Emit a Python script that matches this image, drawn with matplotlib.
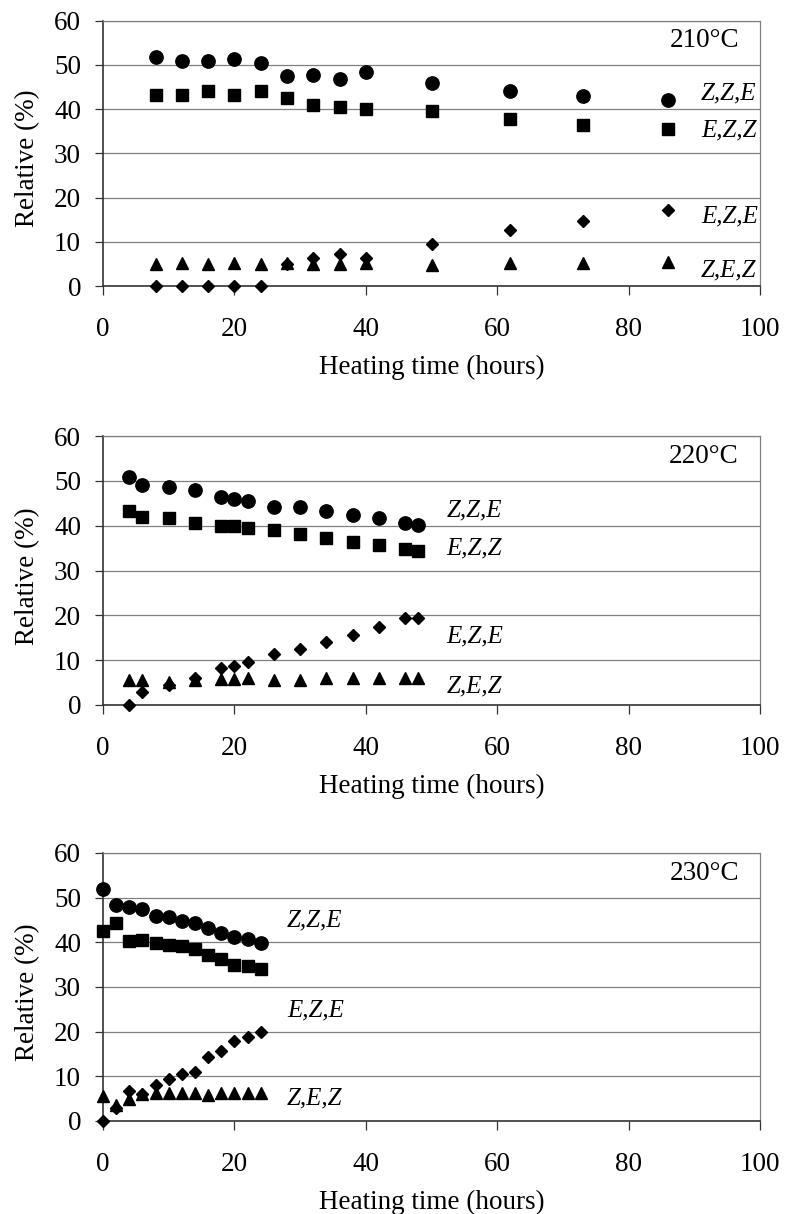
import matplotlib
matplotlib.use('Agg')
import matplotlib.pyplot as plt

plt.rcParams['font.family'] = ['Liberation Serif', 'DejaVu Serif']

# 210 °C
t210 = [8, 12, 16, 20, 24, 28, 32, 36, 40, 50, 62, 73, 86]
zze210 = [51.9, 50.9, 50.9, 51.4, 50.5, 47.4, 47.7, 46.8, 48.3, 46.0, 44.2, 42.9, 42.0]
ezz210 = [43.2, 43.2, 44.2, 43.2, 44.2, 42.5, 41.0, 40.5, 40.1, 39.6, 37.8, 36.4, 35.6]
eze210 = [0, 0, 0, 0, 0, 4.9, 6.4, 7.3, 6.4, 9.4, 12.6, 14.8, 17.1]
zez210 = [4.9, 5.3, 4.9, 5.3, 4.9, 5.1, 4.9, 4.9, 5.3, 4.8, 5.3, 5.3, 5.4]

# 220 °C
t220 = [4, 6, 10, 14, 18, 20, 22, 26, 30, 34, 38, 42, 46, 48]
zze220 = [50.9, 49.0, 48.7, 47.9, 46.4, 45.9, 45.5, 44.2, 44.2, 43.3, 42.3, 41.6, 40.6, 40.1]
ezz220 = [43.2, 41.9, 41.6, 40.6, 39.9, 39.9, 39.5, 39.1, 38.2, 37.3, 36.4, 35.6, 34.7, 34.3]
eze220 = [0, 3.0, 4.5, 6.0, 8.3, 8.8, 9.6, 11.4, 12.4, 14.0, 15.6, 17.5, 19.3, 19.3]
zez220 = [5.6, 5.5, 5.2, 5.6, 5.8, 5.8, 6.0, 5.6, 5.6, 6.0, 6.0, 6.0, 6.0, 6.0]

# 230 °C
t230 = [0, 2, 4, 6, 8, 10, 12, 14, 16, 18, 20, 22, 24]
zze230 = [51.9, 48.3, 47.8, 47.4, 46.0, 45.7, 44.7, 44.3, 43.1, 42.1, 41.2, 40.7, 39.9]
ezz230 = [42.5, 44.3, 40.2, 40.6, 39.8, 39.5, 39.1, 38.6, 37.2, 36.3, 35.0, 34.6, 34.0]
eze230 = [0, 3.0, 6.8, 6.0, 8.0, 9.3, 10.6, 10.9, 14.3, 15.7, 17.8, 18.9, 20.0]
zez230 = [5.6, 3.5, 4.9, 6.0, 6.2, 6.2, 6.2, 6.2, 5.8, 6.2, 6.2, 6.2, 6.2]

temps = ['210°C', '220°C', '230°C']
species = ['Z,Z,E', 'E,Z,Z', 'E,Z,E', 'Z,E,Z']
# label anchor (x, y) per panel, in data units
label_x = [91, 52.3, 28]
label_y = [[43.6, 35.1, 15.7, 3.6],
           [43.5, 35.0, 15.2, 4.1],
           [45.0, None, 24.8, 5.1]]

panels = [
    (t210, zze210, ezz210, eze210, zez210),
    (t220, zze220, ezz220, eze220, zez220),
    (t230, zze230, ezz230, eze230, zez230),
]

W, H = 786, 1214
# axes boxes in pixels: top, bottom
boxes = [(20.7, 286), (436, 705), (853, 1121)]
left_px, right_px = 103, 760

fig = plt.figure(figsize=(W / 100, H / 100), dpi=100)

fs = 19.5
for i, (t, zze, ezz, eze, zez) in enumerate(panels):
    top, bot = boxes[i]
    hpx = bot - top
    ax = fig.add_axes([left_px / W, 1 - bot / H, (right_px - left_px) / W, hpx / H])

    ax.plot(t, zze, 'o', color='black', ms=9.6, clip_on=False, zorder=3)
    ax.plot(t, ezz, 's', color='black', ms=8.6, clip_on=False, zorder=3)
    ax.plot(t, eze, 'D', color='black', ms=6.4, clip_on=False, zorder=3)
    ax.plot(t, zez, '^', color='black', ms=9.2, clip_on=False, zorder=3)

    ax.set_xlim(0, 100)
    ax.set_ylim(0, 60)
    ax.set_xticks(range(0, 101, 20))
    ax.set_yticks(range(0, 61, 10))
    ax.yaxis.grid(True, color='#808080', lw=0.9)
    ax.set_axisbelow(True)

    for s in ['top', 'right']:
        ax.spines[s].set_color('#808080')
        ax.spines[s].set_linewidth(0.9)
    for s in ['left', 'bottom']:
        ax.spines[s].set_color('#333333')
        ax.spines[s].set_linewidth(1.2)

    ax.tick_params(axis='y', direction='out', length=5.8, width=0.9,
                   color='#333333', pad=10, labelsize=fs)
    ax.tick_params(axis='x', direction='out', length=6.5, width=0.9,
                   color='#333333', pad=16, labelsize=fs)

    ax.set_xlabel('Heating time (hours)', fontsize=fs, va='center')
    ax.xaxis.set_label_coords(0.5, -81 / hpx)
    ax.set_ylabel('Relative (%)', fontsize=fs, va='center')
    ax.yaxis.set_label_coords((28 - left_px) / (right_px - left_px), 0.48)

    ax.text(96.8, 55.5, temps[i], fontsize=fs, ha='right', va='center')
    for name, yy in zip(species, label_y[i]):
        if yy is None:
            continue
        ax.text(label_x[i], yy, name, fontsize=18, style='italic',
                ha='left', va='center')

fig.savefig('out.png', dpi=100)
